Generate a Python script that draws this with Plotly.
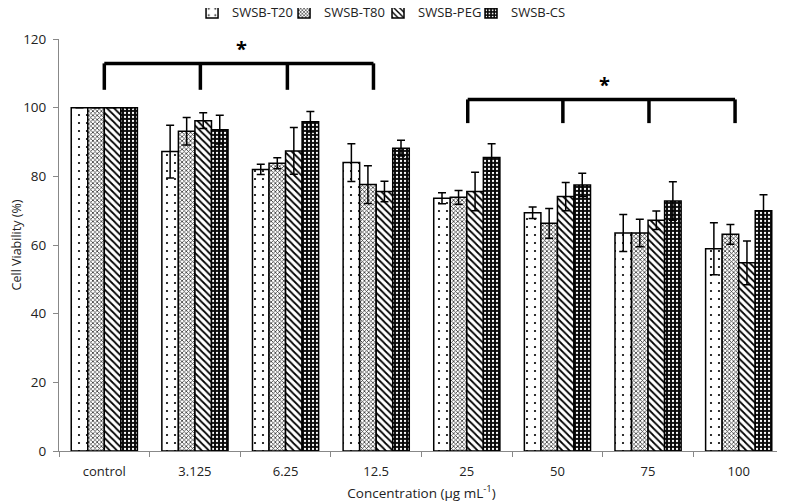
import plotly.graph_objects as go

categories = ["control", "3.125", "6.25", "12.5", "25", "50", "75", "100"]
series_names = ["SWSB-T20", "SWSB-T80", "SWSB-PEG", "SWSB-CS"]

t20 = [100, 87.2, 82.0, 84.0, 73.6, 69.4, 63.5, 58.9]
t20_err = [0, 7.7, 1.5, 5.5, 1.6, 1.7, 5.4, 7.6]
t80 = [100, 93.1, 83.8, 77.6, 73.9, 66.3, 63.5, 63.1]
t80_err = [0, 4.0, 1.6, 5.5, 2.0, 4.3, 4.0, 2.9]
peg = [100, 96.2, 87.4, 75.6, 75.6, 74.1, 67.2, 54.8]
peg_err = [0, 2.3, 6.8, 3.0, 5.6, 4.1, 2.7, 6.4]
cs = [100, 93.6, 95.9, 88.2, 85.5, 77.5, 72.8, 70.0]
cs_err = [0, 4.2, 3.0, 2.3, 4.0, 3.4, 5.6, 4.6]

bracket1_x = [0, 1.06, 2.02, 2.97]
bracket1_top = 112.9
bracket1_bottom = 105.2
bracket2_x = [4.01, 5.06, 6.01, 6.96]
bracket2_top = 102.4
bracket2_bottom = 95.5

values = [t20, t80, peg, cs]
errors = [t20_err, t80_err, peg_err, cs_err]
patterns = [
    dict(shape=".", fgcolor="black", bgcolor="white", size=8, solidity=0.06, fillmode="replace"),
    dict(shape="x", fgcolor="#333333", bgcolor="white", size=3, solidity=0.45, fillmode="replace"),
    dict(shape="\\", fgcolor="black", bgcolor="white", size=5, solidity=0.35, fillmode="replace"),
    dict(shape=".", fgcolor="white", bgcolor="#0a0a0a", size=4, solidity=0.25, fillmode="replace"),
]
legend_ids = ["legend", "legend2", "legend3", "legend4"]
legend_x = [0.1835, 0.3104, 0.4400, 0.5683]

fig = go.Figure()
for name, v, e, p, lg in zip(series_names, values, errors, patterns, legend_ids):
    fig.add_trace(go.Bar(
        x=categories, y=v, name=name, legend=lg,
        marker=dict(color="white", pattern=p, line=dict(color="black", width=1.5)),
        error_y=dict(type="data", array=e, visible=True, color="black", thickness=1.5, width=4),
    ))

line_style = dict(color="black", width=3.5)
for bx, top, bottom in [(bracket1_x, bracket1_top, bracket1_bottom), (bracket2_x, bracket2_top, bracket2_bottom)]:
    fig.add_shape(type="line", xref="x", yref="y", x0=bx[0], x1=bx[-1], y0=top, y1=top, line=line_style)
    for xv in bx:
        fig.add_shape(type="line", xref="x", yref="y", x0=xv, x1=xv, y0=top, y1=bottom, line=line_style)
    fig.add_annotation(x=(bx[0] + bx[-1]) / 2 + 0.03, y=top - 0.3, xref="x", yref="y", text="<b>*</b>",
                       showarrow=False, yanchor="bottom", font=dict(size=20, color="black", family="Open Sans"))

legend_common = dict(orientation="h", xanchor="left", y=1.0655, yanchor="middle",
                     font=dict(size=13, color="#222222"), bgcolor="rgba(0,0,0,0)")

fig.update_layout(
    width=777, height=494,
    autosize=False,
    margin=dict(l=51, r=1, t=31, b=51, autoexpand=False),
    plot_bgcolor="white", paper_bgcolor="white",
    barmode="group", bargap=0.27, bargroupgap=0,
    font=dict(family="Open Sans", size=13, color="#222222"),
    showlegend=True,
    legend=dict(x=legend_x[0], **legend_common),
    legend2=dict(x=legend_x[1], **legend_common),
    legend3=dict(x=legend_x[2], **legend_common),
    legend4=dict(x=legend_x[3], **legend_common),
    xaxis=dict(
        type="category", range=[-0.5, 7.5], showline=True, linecolor="#888888", linewidth=1,
        ticks="outside", tickson="boundaries", ticklen=5, tickcolor="#888888",
        tickfont=dict(size=13, color="#222222"), tickangle=0, automargin=False,
        ticklabelstandoff=8,
        title=dict(text="Concentration (µg mL<sup>-1</sup>)", font=dict(size=13.5), standoff=15),
    ),
    yaxis=dict(
        range=[0, 120], dtick=20, showline=True, linecolor="#888888", linewidth=1,
        ticks="outside", ticklen=5, tickcolor="#888888", showgrid=False, zeroline=False,
        tickfont=dict(size=13.5, color="#222222"), automargin=False, ticklabelstandoff=4,
        title=dict(text="Cell Viability (%)", font=dict(size=12.5), standoff=2),
    ),
)

fig.write_html("out.html")
